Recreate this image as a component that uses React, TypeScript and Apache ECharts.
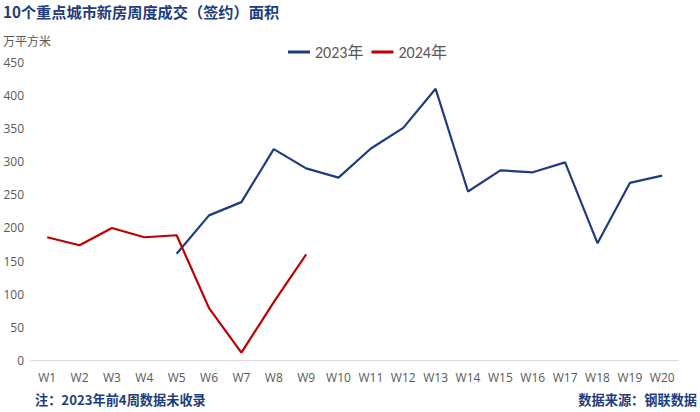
import React, { useEffect, useRef } from "react";
import * as echarts from "echarts";

const categories = ["W1","W2","W3","W4","W5","W6","W7","W8","W9","W10","W11","W12","W13","W14","W15","W16","W17","W18","W19","W20"];
const s2023: (number | null)[] = [null, null, null, null, 161, 219, 239, 319, 290, 276, 320, 351, 410, 255, 287, 284, 299, 177, 268, 279];
const s2024: (number | null)[] = [186, 174, 200, 186, 189, 79, 12, 88, 160, null, null, null, null, null, null, null, null, null, null, null];
const yTicks = [0, 50, 100, 150, 200, 250, 300, 350, 400, 450];

const NAVY = "#1F3C7E";
const RED = "#C00000";
const CJK = "'Noto Sans CJK SC', sans-serif";

export default function App() {
  const ref = useRef<HTMLDivElement>(null);
  useEffect(() => {
    if (!ref.current) return;
    const chart = echarts.init(ref.current, null, { renderer: "svg" });
    chart.setOption({
      animation: false,
      backgroundColor: "#ffffff",
      title: [
        {
          text: "10个重点城市新房周度成交（签约）面积",
          left: 3,
          top: 3,
          padding: 0,
          textStyle: { color: NAVY, fontSize: 15.2, fontWeight: "bold", fontFamily: CJK },
        },
        {
          text: "万平方米",
          left: 3,
          top: 34,
          padding: 0,
          textStyle: { color: "#595959", fontSize: 12, fontWeight: "normal", fontFamily: CJK },
        },
        {
          text: "注：2023年前4周数据未收录",
          left: 35,
          top: 393,
          padding: 0,
          textStyle: { color: NAVY, fontSize: 13.2, fontWeight: "bold", fontFamily: CJK },
        },
        {
          text: "数据来源：钢联数据",
          right: 3,
          top: 393,
          padding: 0,
          textStyle: { color: NAVY, fontSize: 13.2, fontWeight: "bold", fontFamily: CJK },
        },
      ],
      legend: {
        top: 44,
        left: 288,
        padding: 0,
        itemWidth: 22,
        itemHeight: 3,
        itemGap: 8,
        icon: "rect",
        textStyle: { color: "#595959", fontSize: 16, fontFamily: "Calibri, 'Open Sans', " + CJK },
        data: ["2023年", "2024年"],
      },
      grid: { left: 31, right: 21.6, top: 62.3, bottom: 51.5, containLabel: false },
      xAxis: {
        type: "category",
        data: categories,
        boundaryGap: true,
        axisLine: { lineStyle: { color: "#D9D9D9", width: 1 } },
        axisTick: { show: false },
        axisLabel: { color: "#595959", fontSize: 12, margin: 11, fontFamily: "'Open Sans', sans-serif" },
      },
      yAxis: {
        type: "value",
        min: 0,
        max: 450,
        interval: 50,
        axisLine: { show: false },
        axisTick: { show: false },
        splitLine: { show: false },
        axisLabel: {
          color: "#595959",
          fontSize: 12,
          margin: 7,
          fontFamily: "'Open Sans', sans-serif",
          formatter: (v: number) => (yTicks.includes(v) ? String(v) : ""),
        },
      },
      series: [
        {
          name: "2023年",
          type: "line",
          data: s2023,
          symbol: "none",
          connectNulls: false,
          lineStyle: { color: NAVY, width: 2.2 },
          itemStyle: { color: NAVY },
        },
        {
          name: "2024年",
          type: "line",
          data: s2024,
          symbol: "none",
          connectNulls: false,
          lineStyle: { color: RED, width: 2.2 },
          itemStyle: { color: RED },
        },
      ],
    });
    return () => chart.dispose();
  }, []);
  return <div ref={ref} style={{ width: 700, height: 412, position: "absolute", left: 0, top: 0 }} />;
}
